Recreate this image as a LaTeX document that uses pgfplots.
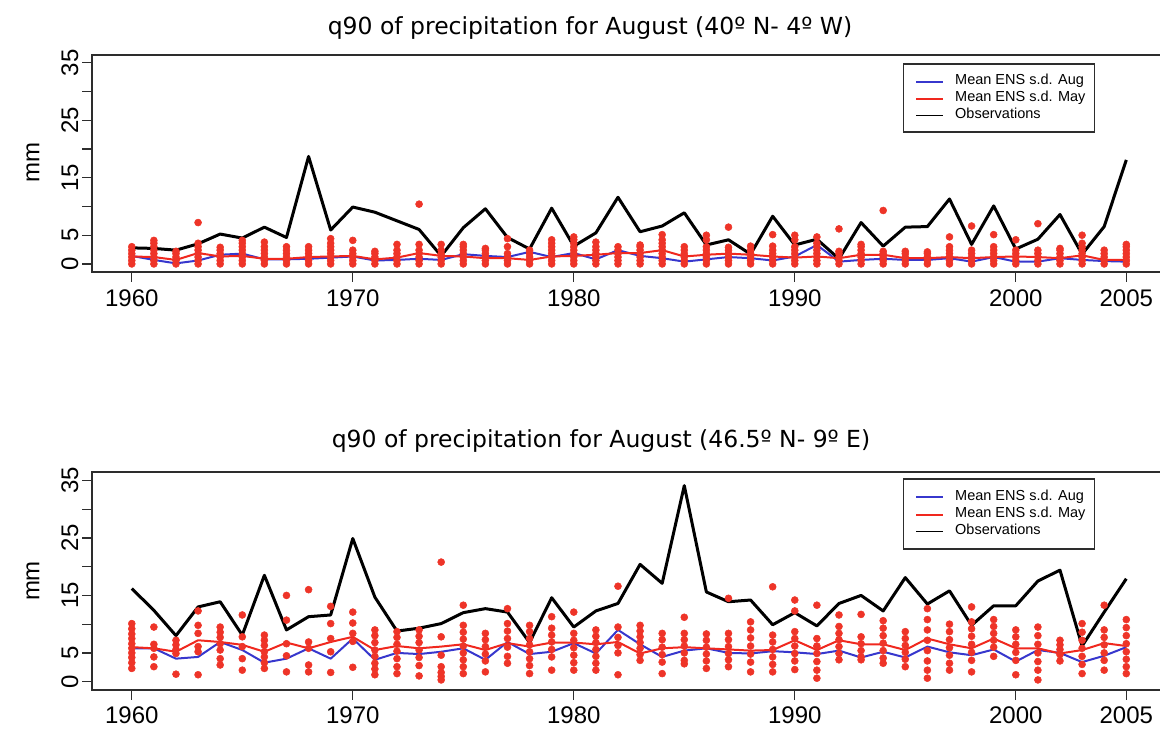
\documentclass[border=0pt]{standalone}
\usepackage{fontspec}
\setmainfont{Liberation Sans}
\newfontfamily\titlefont{DejaVu Sans}
\usepackage{pgfplots}
\usepackage{pgfplotstable}
\pgfplotsset{compat=1.18}

\definecolor{augblue}{RGB}{55,55,205}
\definecolor{mayred}{RGB}{240,40,30}
\definecolor{dotred}{RGB}{238,52,40}
\definecolor{framegray}{RGB}{45,45,45}

% q90 of August precipitation: observations and ensemble means
\pgfplotstableread{
year obs aug may
1960 2.8 1.4 1.3
1961 2.7 0.7 1.2
1962 2.4 0.1 0.7
1963 3.5 0.6 1.9
1964 5.2 1.6 1.3
1965 4.5 1.8 1.4
1966 6.4 0.8 0.9
1967 4.6 0.8 0.9
1968 18.7 0.9 1.2
1969 5.9 1.1 1.3
1970 9.9 1.3 1.4
1971 9.0 0.6 0.8
1972 7.5 0.7 1.1
1973 6.0 0.9 1.9
1974 1.4 0.7 1.4
1975 6.3 1.7 1.3
1976 9.6 1.4 1.0
1977 4.6 1.2 1.0
1978 2.6 2.1 0.7
1979 9.7 1.2 1.3
1980 3.1 1.9 1.4
1981 5.4 0.8 1.6
1982 11.6 2.4 1.9
1983 5.6 1.4 1.9
1984 6.6 1.0 2.4
1985 8.9 0.4 1.3
1986 3.3 0.8 1.6
1987 4.2 1.2 1.8
1988 1.7 1.0 1.6
1989 8.3 0.6 1.3
1990 3.3 1.3 1.1
1991 4.3 3.3 1.3
1992 0.9 0.4 1.0
1993 7.2 0.7 1.6
1994 3.1 0.9 1.6
1995 6.4 0.7 1.0
1996 6.5 0.7 1.0
1997 11.3 1.0 1.2
1998 3.4 0.4 1.0
1999 10.1 1.2 1.2
2000 2.6 0.4 1.3
2001 4.3 0.4 1.2
2002 8.6 1.0 1.0
2003 1.7 0.7 1.5
2004 6.5 0.5 0.7
2005 18.1 0.4 0.7
}\spainlines

\pgfplotstableread{
year obs aug may
1960 16.2 5.8 6.0
1961 12.4 5.8 5.8
1962 8.0 4.0 5.2
1963 13.0 4.3 7.2
1964 13.9 6.9 6.9
1965 8.1 5.5 6.4
1966 18.5 3.3 5.2
1967 9.0 4.0 6.8
1968 11.3 5.8 5.8
1969 11.6 4.0 6.9
1970 24.9 7.5 7.8
1971 14.7 3.8 5.5
1972 8.8 5.0 6.2
1973 9.3 4.8 5.8
1974 10.1 5.2 6.1
1975 12.0 5.8 6.5
1976 12.7 3.8 5.5
1977 12.1 6.9 6.7
1978 6.8 4.8 6.1
1979 14.6 5.2 6.8
1980 9.5 6.7 6.8
1981 12.3 4.9 6.5
1982 13.6 9.0 6.9
1983 20.4 6.5 4.9
1984 17.1 4.3 5.8
1985 34.1 5.4 6.0
1986 15.6 5.8 5.8
1987 13.9 5.0 5.6
1988 14.2 4.9 5.4
1989 9.9 5.3 5.5
1990 12.0 5.1 7.2
1991 9.7 4.8 5.5
1992 13.6 5.4 7.2
1993 15.0 4.2 6.5
1994 12.3 5.2 6.5
1995 18.1 4.2 5.5
1996 13.5 6.1 7.5
1997 15.8 5.1 6.5
1998 9.8 4.6 5.8
1999 13.2 5.6 7.5
2000 13.2 3.5 5.8
2001 17.5 5.5 5.8
2002 19.4 5.0 4.9
2003 6.2 3.4 5.5
2004 12.1 4.5 6.7
2005 17.9 6.0 6.2
}\alpslines

\pgfplotsset{
  q90panel/.style={
    scale only axis, width=1074pt, height=217.3pt,
    anchor=south west,
    xmin=1958.2, xmax=2006.8, ymin=-1.4, ymax=36.4,
    xtick={1960,1970,1980,1990,2000,2005},
    xticklabels={1960,1970,1980,1990,2000,2005},
    ytick={0,5,10,15,20,25,30,35},
    yticklabels={0,5,,15,,25,,35},
    tick pos=left, tick align=outside,
    major tick length=10pt,
    every tick/.style={draw=framegray, line width=1.2pt},
    axis line style={draw=framegray, line width=2pt},
    ticklabel style={font=\fontsize{24}{24}\selectfont, text=black},
    yticklabel style={rotate=90, anchor=south},
    xticklabel style={anchor=north, yshift=-4pt},
  },
  ensdots/.style={only marks, mark=*, mark size=3.5pt, color=dotred,
    mark options={solid, fill=dotred, draw=dotred, line width=0.5pt}, forget plot},
}
\tikzset{
  legtext/.style={anchor=mid west, inner sep=0pt, text=black,
    font=\fontsize{14.5}{17}\selectfont},
}

% legend box drawn inside each panel: #1 = top, #2 = bottom, #3-#5 = row heights
\newcommand{\ensleg}[5]{%
  \filldraw[draw=framegray, fill=white, line width=1.5pt]
    (rel axis cs:0.7557,#1) rectangle (rel axis cs:0.9335,#2);
  \fill[fill=augblue] (rel axis cs:0.7672,#3) ++(0pt,-1.1pt) rectangle ([yshift=1.1pt]rel axis cs:0.7924,#3);
  \fill[fill=mayred] (rel axis cs:0.7672,#4) ++(0pt,-1.1pt) rectangle ([yshift=1.1pt]rel axis cs:0.7924,#4);
  \fill[fill=black] (rel axis cs:0.7672,#5) ++(0pt,-0.9pt) rectangle ([yshift=0.9pt]rel axis cs:0.7924,#5);
  \node[legtext] at (rel axis cs:0.8035,#3) {Mean ENS s.d. Aug};
  \node[legtext] at (rel axis cs:0.8035,#4) {Mean ENS s.d. May};
  \node[legtext] at (rel axis cs:0.8035,#5) {Observations};
}

\begin{document}
\begin{tikzpicture}
\useasboundingbox (0pt,0pt) rectangle (1160pt,729pt);

\node[font=\titlefont\fontsize{23.5}{24}\selectfont] at (590pt,701pt)
  {q90 of precipitation for August (40º N- 4º W)};
\node[font=\titlefont\fontsize{23.5}{24}\selectfont] at (601pt,288pt)
  {q90 of precipitation for August (46.5º N- 9º E)};
\node[rotate=90, font=\fontsize{24}{24}\selectfont] at (33pt,566pt) {mm};
\node[rotate=90, font=\fontsize{24}{24}\selectfont] at (33pt,148pt) {mm};

% 40N 4W
\begin{axis}[q90panel, at={(92pt,457pt)}]
\addplot[ensdots] coordinates {
(1960,0)(1960,0.6)(1960,1.2)(1960,1.8)(1960,2.4)(1960,3.0)
(1961,0)(1961,0.6)(1961,1.2)(1961,1.8)(1961,2.4)(1961,3.0)(1961,3.6)(1961,4.1)
(1962,0)(1962,0.6)(1962,1.2)(1962,1.8)(1962,2.2)
(1963,0)(1963,0.6)(1963,1.2)(1963,1.8)(1963,2.4)(1963,3.0)(1963,3.6)(1963,7.2)
(1964,0)(1964,0.6)(1964,1.2)(1964,1.8)(1964,2.4)(1964,2.9)
(1965,0)(1965,0.6)(1965,1.2)(1965,1.8)(1965,2.4)(1965,3.0)(1965,3.6)(1965,4.1)
(1966,0)(1966,0.6)(1966,1.2)(1966,1.8)(1966,2.4)(1966,3.0)(1966,3.8)
(1967,0)(1967,0.6)(1967,1.2)(1967,1.8)(1967,2.4)(1967,3.0)
(1968,0)(1968,0.6)(1968,1.2)(1968,1.8)(1968,2.4)(1968,3.0)
(1969,0)(1969,0.6)(1969,1.2)(1969,1.8)(1969,2.4)(1969,3.0)(1969,3.6)(1969,4.4)
(1970,0)(1970,0.6)(1970,1.2)(1970,1.8)(1970,2.4)(1970,4.1)
(1971,0)(1971,0.6)(1971,1.2)(1971,1.8)(1971,2.2)
(1972,0)(1972,0.6)(1972,1.2)(1972,1.8)(1972,2.4)(1972,3.4)
(1973,0)(1973,0.6)(1973,1.2)(1973,1.8)(1973,2.4)(1973,3.4)(1973,10.4)
(1974,0)(1974,0.6)(1974,1.2)(1974,1.8)(1974,2.4)(1974,3.4)
(1975,0)(1975,0.6)(1975,1.2)(1975,1.8)(1975,2.4)(1975,3.0)(1975,3.4)
(1976,0)(1976,0.6)(1976,1.2)(1976,1.8)(1976,2.4)(1976,2.7)
(1977,0)(1977,0.6)(1977,1.2)(1977,1.8)(1977,3.0)(1977,4.4)
(1978,0)(1978,0.6)(1978,1.2)(1978,1.8)(1978,2.4)
(1979,0)(1979,0.6)(1979,1.2)(1979,1.8)(1979,2.4)(1979,3.0)(1979,3.6)(1979,4.2)
(1980,0)(1980,0.6)(1980,1.2)(1980,1.8)(1980,2.4)(1980,3.0)(1980,3.6)(1980,4.2)(1980,4.7)
(1981,0)(1981,0.6)(1981,1.2)(1981,1.8)(1981,2.4)(1981,3.0)(1981,3.8)
(1982,0)(1982,0.6)(1982,1.2)(1982,1.8)(1982,2.4)(1982,3.0)
(1983,0)(1983,0.6)(1983,1.2)(1983,1.8)(1983,2.4)(1983,3.0)(1983,3.3)
(1984,0)(1984,0.6)(1984,1.2)(1984,1.8)(1984,2.4)(1984,3.0)(1984,3.6)(1984,4.2)(1984,5.1)
(1985,0)(1985,0.6)(1985,1.2)(1985,1.8)(1985,2.4)(1985,3.0)
(1986,0)(1986,0.6)(1986,1.2)(1986,1.8)(1986,2.4)(1986,3.0)(1986,4.2)(1986,5.0)
(1987,0)(1987,0.6)(1987,1.2)(1987,1.8)(1987,2.4)(1987,2.9)(1987,6.4)
(1988,0)(1988,0.6)(1988,1.2)(1988,1.8)(1988,2.4)(1988,3.1)
(1989,0)(1989,0.6)(1989,1.2)(1989,1.8)(1989,2.4)(1989,3.1)(1989,5.1)
(1990,0)(1990,0.6)(1990,1.2)(1990,1.8)(1990,2.4)(1990,3.0)(1990,4.2)(1990,5.0)
(1991,0)(1991,0.6)(1991,1.2)(1991,1.8)(1991,2.4)(1991,3.0)(1991,3.6)(1991,4.7)
(1992,0)(1992,0.6)(1992,1.2)(1992,1.8)(1992,2.2)(1992,6.1)
(1993,0)(1993,0.6)(1993,1.2)(1993,1.8)(1993,2.4)(1993,3.0)(1993,3.4)
(1994,0)(1994,0.6)(1994,1.2)(1994,1.8)(1994,2.2)(1994,9.3)
(1995,0)(1995,0.6)(1995,1.2)(1995,1.8)(1995,2.2)
(1996,0)(1996,0.6)(1996,1.2)(1996,1.8)(1996,2.1)
(1997,0)(1997,0.6)(1997,1.2)(1997,1.8)(1997,2.4)(1997,3.0)(1997,4.7)
(1998,0)(1998,0.6)(1998,1.2)(1998,1.8)(1998,2.4)(1998,6.6)
(1999,0)(1999,0.6)(1999,1.2)(1999,1.8)(1999,2.4)(1999,3.0)(1999,5.1)
(2000,0)(2000,0.6)(2000,1.2)(2000,1.8)(2000,2.4)(2000,4.2)
(2001,0)(2001,0.6)(2001,1.2)(2001,1.8)(2001,2.4)(2001,7.0)
(2002,0)(2002,0.6)(2002,1.2)(2002,1.8)(2002,2.4)(2002,2.7)
(2003,0)(2003,0.6)(2003,1.2)(2003,1.8)(2003,2.4)(2003,3.0)(2003,3.6)(2003,5.0)
(2004,0)(2004,0.6)(2004,1.2)(2004,1.8)(2004,2.4)
(2005,0)(2005,0.6)(2005,1.2)(2005,1.8)(2005,2.4)(2005,3.0)(2005,3.4)
};
\addplot[draw=augblue, line width=2pt, line join=round, no marks, forget plot] table[x=year, y=aug] {\spainlines};
\addplot[draw=mayred, line width=2pt, line join=round, no marks, forget plot] table[x=year, y=may] {\spainlines};
\addplot[draw=black, line width=3pt, line join=round, no marks, forget plot] table[x=year, y=obs] {\spainlines};
\ensleg{0.957}{0.644}{0.876}{0.796}{0.720}
\end{axis}

% 46.5N 9E
\begin{axis}[q90panel, at={(92pt,39.3pt)}]
\addplot[ensdots] coordinates {
(1960,10.1)(1960,9.2)(1960,8.3)(1960,7.5)(1960,6.6)(1960,5.8)(1960,5.0)(1960,4.2)(1960,3.3)(1960,2.3)
(1961,9.5)(1961,6.5)(1961,5.8)(1961,4.3)(1961,2.6)
(1962,7.2)(1962,6.4)(1962,5.6)(1962,4.9)(1962,1.3)
(1963,12.3)(1963,9.8)(1963,8.4)(1963,6.1)(1963,5.2)(1963,1.2)
(1964,9.5)(1964,8.6)(1964,7.7)(1964,6.6)(1964,5.5)(1964,4.0)(1964,2.9)
(1965,11.6)(1965,7.8)(1965,6.1)(1965,4.0)(1965,2.0)
(1966,8.1)(1966,7.2)(1966,6.3)(1966,5.2)(1966,4.3)(1966,3.3)(1966,2.3)
(1967,15.0)(1967,10.7)(1967,6.6)(1967,4.5)(1967,1.7)
(1968,16.0)(1968,6.9)(1968,5.8)(1968,2.9)(1968,1.7)
(1969,13.1)(1969,10.1)(1969,7.5)(1969,5.2)(1969,1.6)
(1970,12.1)(1970,10.2)(1970,8.4)(1970,7.0)(1970,2.5)
(1971,9.0)(1971,8.0)(1971,6.8)(1971,5.5)(1971,4.4)(1971,3.2)(1971,2.2)(1971,1.2)
(1972,8.7)(1972,7.7)(1972,6.5)(1972,5.3)(1972,4.0)(1972,2.6)(1972,1.4)
(1973,9.0)(1973,7.9)(1973,6.8)(1973,5.5)(1973,4.2)(1973,2.8)(1973,1.0)
(1974,20.8)(1974,7.8)(1974,4.6)(1974,2.6)(1974,1.6)(1974,0.9)(1974,0.3)
(1975,13.3)(1975,9.8)(1975,8.6)(1975,7.4)(1975,6.2)(1975,5.0)(1975,3.8)(1975,2.6)(1975,1.4)
(1976,8.4)(1976,7.3)(1976,6.1)(1976,4.8)(1976,3.6)(1976,1.7)
(1977,12.7)(1977,10.1)(1977,8.8)(1977,7.5)(1977,6.0)(1977,4.4)(1977,3.2)
(1978,9.8)(1978,8.7)(1978,7.5)(1978,6.4)(1978,5.2)(1978,4.0)(1978,2.8)(1978,1.4)
(1979,11.3)(1979,9.3)(1979,8.1)(1979,6.9)(1979,5.6)(1979,4.3)(1979,2.0)
(1980,12.1)(1980,8.4)(1980,7.2)(1980,5.9)(1980,4.6)(1980,3.3)(1980,2.0)
(1981,9.0)(1981,7.9)(1981,6.8)(1981,5.6)(1981,4.4)(1981,3.2)(1981,2.0)
(1982,16.6)(1982,9.5)(1982,7.7)(1982,6.3)(1982,5.0)(1982,1.2)
(1983,9.8)(1983,8.8)(1983,7.8)(1983,6.8)(1983,5.8)(1983,4.7)(1983,3.7)
(1984,8.4)(1984,7.3)(1984,6.0)(1984,4.7)(1984,3.4)(1984,1.4)
(1985,11.2)(1985,8.4)(1985,7.3)(1985,6.2)(1985,5.0)(1985,3.7)(1985,3.1)
(1986,8.3)(1986,7.2)(1986,6.0)(1986,4.8)(1986,3.6)(1986,2.3)
(1987,14.5)(1987,8.4)(1987,7.3)(1987,6.1)(1987,4.9)(1987,3.8)(1987,2.6)
(1988,10.4)(1988,9.0)(1988,7.6)(1988,6.2)(1988,4.8)(1988,3.4)(1988,1.7)
(1989,16.5)(1989,8.1)(1989,6.9)(1989,5.6)(1989,4.3)(1989,3.0)(1989,1.7)
(1990,14.2)(1990,12.3)(1990,8.7)(1990,7.5)(1990,6.2)(1990,4.9)(1990,3.6)(1990,2.1)
(1991,13.3)(1991,7.5)(1991,6.2)(1991,4.9)(1991,3.5)(1991,2.0)(1991,0.6)
(1992,11.6)(1992,9.6)(1992,8.4)(1992,7.3)(1992,6.1)(1992,4.9)(1992,3.8)
(1993,11.7)(1993,7.8)(1993,6.6)(1993,5.4)(1993,4.3)(1993,3.8)
(1994,10.6)(1994,9.3)(1994,8.0)(1994,6.7)(1994,5.4)(1994,4.1)(1994,3.2)
(1995,8.7)(1995,7.5)(1995,6.3)(1995,5.1)(1995,3.9)(1995,2.6)
(1996,12.7)(1996,10.8)(1996,9.0)(1996,7.2)(1996,5.4)(1996,3.6)(1996,2.0)(1996,0.6)
(1997,10.0)(1997,8.7)(1997,7.3)(1997,5.9)(1997,4.6)(1997,3.2)(1997,2.0)
(1998,13.0)(1998,10.4)(1998,9.2)(1998,7.9)(1998,6.5)(1998,5.1)(1998,3.7)(1998,1.7)
(1999,10.8)(1999,9.6)(1999,8.4)(1999,7.2)(1999,6.0)(1999,4.4)
(2000,9.0)(2000,7.8)(2000,6.5)(2000,5.1)(2000,3.7)(2000,1.2)
(2001,9.5)(2001,8.0)(2001,6.5)(2001,5.0)(2001,3.5)(2001,2.0)(2001,0.3)
(2002,7.2)(2002,6.4)(2002,5.6)(2002,4.7)(2002,3.6)
(2003,10.1)(2003,8.6)(2003,7.2)(2003,5.8)(2003,4.4)(2003,3.0)(2003,1.4)
(2004,13.3)(2004,9.0)(2004,7.7)(2004,6.4)(2004,5.0)(2004,3.7)(2004,2.0)
(2005,10.8)(2005,9.4)(2005,8.0)(2005,6.6)(2005,5.2)(2005,3.9)(2005,2.6)(2005,1.4)
};
\addplot[draw=augblue, line width=2pt, line join=round, no marks, forget plot] table[x=year, y=aug] {\alpslines};
\addplot[draw=mayred, line width=2pt, line join=round, no marks, forget plot] table[x=year, y=may] {\alpslines};
\addplot[draw=black, line width=3pt, line join=round, no marks, forget plot] table[x=year, y=obs] {\alpslines};
\ensleg{0.969}{0.6465}{0.885}{0.805}{0.728}
\end{axis}
\end{tikzpicture}
\end{document}
